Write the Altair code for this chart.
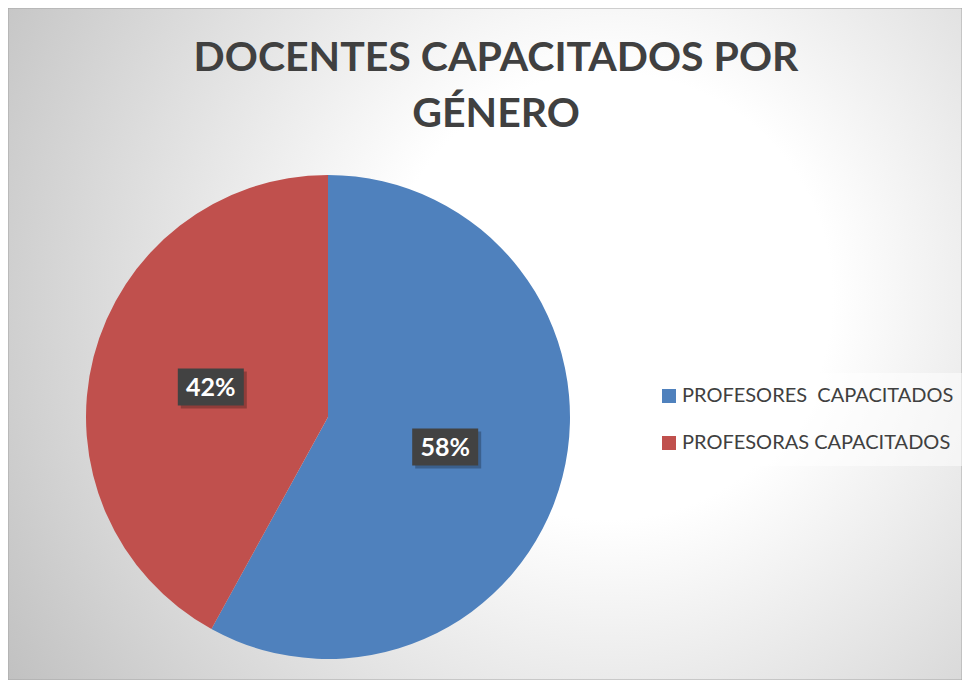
import altair as alt
import pandas as pd

# ---- data ----
CATEGORIES = ["PROFESORES\u00a0 CAPACITADOS", "PROFESORAS CAPACITADOS"]
VALUES = [58, 42]
ORDER = [0, 1]
COLORS = ["#4F81BD", "#C0504D"]
TITLE_LINES = ["DOCENTES CAPACITADOS POR", "GÉNERO"]

# ---- layout ----
W, H = 954, 672
CX, CY, R = 320, 409, 242
LABEL_R = 121
BOX_W, BOX_H = 66, 37
FONT = "Lato, sans-serif"
TEXT_COLOR = "#404040"

df = pd.DataFrame({"cat": CATEGORIES, "value": VALUES, "order": ORDER})
base = alt.Chart(df)

bg = alt.Chart(pd.DataFrame({"a": [0]})).mark_rect(
    fill=alt.RadialGradient(
        gradient="radial", x1=0.63, y1=0.45, r1=0, x2=0.63, y2=0.45, r2=0.78,
        stops=[alt.GradientStop(offset=0, color="#ffffff"),
               alt.GradientStop(offset=0.3, color="#ffffff"),
               alt.GradientStop(offset=1, color="#bdbdbd")]),
    stroke="#a6a6a6", strokeWidth=1,
).encode(x=alt.value(0), x2=alt.value(W), y=alt.value(0), y2=alt.value(H))

pie = base.mark_arc(outerRadius=R).encode(
    theta=alt.Theta("value:Q", stack=True),
    color=alt.Color(
        "cat:N",
        scale=alt.Scale(domain=CATEGORIES, range=COLORS),
        legend=alt.Legend(
            title=None, orient="none", legendX=638, legendY=365,
            symbolType="square", symbolSize=196, symbolStrokeWidth=0, symbolOpacity=1,
            labelFontSize=20, labelFont=FONT, labelColor=TEXT_COLOR,
            rowPadding=27, padding=13, labelOffset=3, labelLimit=500,
            fillColor="rgba(255,255,255,0.5)",
        ),
    ),
    order=alt.Order("order:Q"),
    x=alt.value(CX), y=alt.value(CY),
)

lab = base.transform_joinaggregate(total="sum(value)").transform_window(
    cum="sum(value)", sort=[alt.SortField("order")], frame=[None, 0]
).transform_calculate(
    mid="(datum.cum - datum.value/2)/datum.total*2*PI",
).transform_calculate(
    px=f"{CX} + {LABEL_R}*sin(datum.mid)",
    py=f"{CY} - {LABEL_R}*cos(datum.mid)",
    pct="format(datum.value/datum.total, '.0%')",
).transform_calculate(
    bx0=f"datum.px - {BOX_W/2}", bx1=f"datum.px + {BOX_W/2}",
    by0=f"datum.py - {BOX_H/2}", by1=f"datum.py + {BOX_H/2}",
    sx0=f"datum.px - {BOX_W/2} + 3", sx1=f"datum.px + {BOX_W/2} + 3",
    sy0=f"datum.py - {BOX_H/2} + 3", sy1=f"datum.py + {BOX_H/2} + 3",
)

shadow = lab.mark_rect(fill="rgba(0,0,0,0.25)").encode(
    x=alt.X("sx0:Q", scale=None, axis=None), x2="sx1:Q",
    y=alt.Y("sy0:Q", scale=None, axis=None), y2="sy1:Q",
)
box = lab.mark_rect(fill="#424242").encode(
    x=alt.X("bx0:Q", scale=None, axis=None), x2="bx1:Q",
    y=alt.Y("by0:Q", scale=None, axis=None), y2="by1:Q",
)
txt = lab.mark_text(font=FONT, fontSize=25, fontWeight="bold", color="white",
                    align="center", baseline="middle", dy=1).encode(
    x=alt.X("px:Q", scale=None, axis=None),
    y=alt.Y("py:Q", scale=None, axis=None),
    text="pct:N",
)

title = alt.Chart(pd.DataFrame({"t": ["\n".join(TITLE_LINES)]})).mark_text(
    lineBreak="\n", font=FONT, fontSize=41, fontWeight="bold", color=TEXT_COLOR,
    align="center", baseline="top", lineHeight=56,
).encode(text="t:N", x=alt.value(488), y=alt.value(31))

chart = alt.layer(bg, pie, shadow, box, txt, title).properties(
    width=W, height=H, padding=0, autosize=alt.AutoSizeParams(type="none"),
).configure_view(stroke=None)

chart.save("out.html", embed_options={"renderer": "svg", "actions": False})
